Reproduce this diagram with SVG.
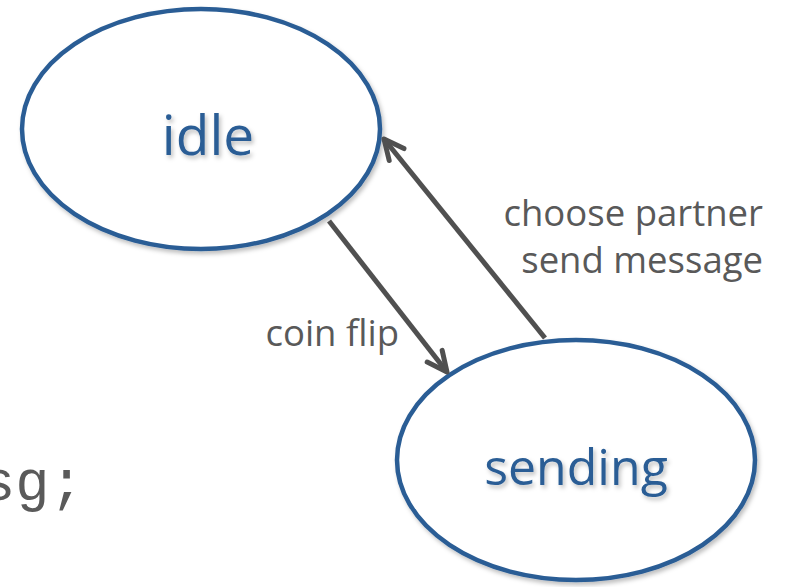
<svg xmlns="http://www.w3.org/2000/svg" width="787" height="587" viewBox="0 0 787 587">
  <style>
    .state { fill: #ffffff; stroke: #2a5d95; stroke-width: 4.5; }
    .state-label { font-family: "Open Sans", "Noto Sans", sans-serif; fill: #2a5d95; text-anchor: middle; }
    .edge { stroke: #505050; stroke-width: 5; fill: none; }
    .edge-label { font-family: "Open Sans", "Noto Sans", sans-serif; font-size: 36.5px; fill: #595959; }
    .code { font-family: "Liberation Mono", "DejaVu Sans Mono", monospace; font-size: 57px; fill: #5a5a5a; }
  </style>
  <defs>
    <filter id="soft-shadow" x="-10%" y="-10%" width="130%" height="130%">
      <feDropShadow dx="2" dy="3" stdDeviation="2" flood-color="#000000" flood-opacity="0.25"/>
    </filter>
    <marker id="open-arrow" markerUnits="userSpaceOnUse" markerWidth="40" markerHeight="40" viewBox="-30 -20 40 40" refX="0" refY="0" orient="auto">
      <path d="M -20 -9.5 L 0 0 L -20 9.5" fill="none" stroke="#505050" stroke-width="5" stroke-linejoin="round" stroke-linecap="round"/>
    </marker>
  </defs>

  <rect width="787" height="587" fill="#ffffff"/>

  <!-- fragment of code text running in from the left edge -->
  <text class="code" x="-19" y="500">sg;</text>

  <g id="node-idle">
    <ellipse class="state" cx="201" cy="129" rx="179" ry="120" filter="url(#soft-shadow)"/>
    <text class="state-label" x="208" y="155" font-size="55" filter="url(#soft-shadow)">idle</text>
  </g>

  <g id="node-sending">
    <ellipse class="state" cx="576" cy="460" rx="179" ry="120" filter="url(#soft-shadow)"/>
    <text class="state-label" x="576" y="485" font-size="50" filter="url(#soft-shadow)">sending</text>
  </g>

  <g id="connectors">
    <line class="edge" x1="329" y1="221" x2="447" y2="372" marker-end="url(#open-arrow)"/>
    <line class="edge" x1="545" y1="338" x2="384" y2="139" marker-end="url(#open-arrow)"/>
    <text class="edge-label" x="399" y="346" text-anchor="end">coin flip</text>
    <text class="edge-label" x="763" y="226" text-anchor="end">choose partner</text>
    <text class="edge-label" x="763" y="273" text-anchor="end">send message</text>
  </g>
</svg>
